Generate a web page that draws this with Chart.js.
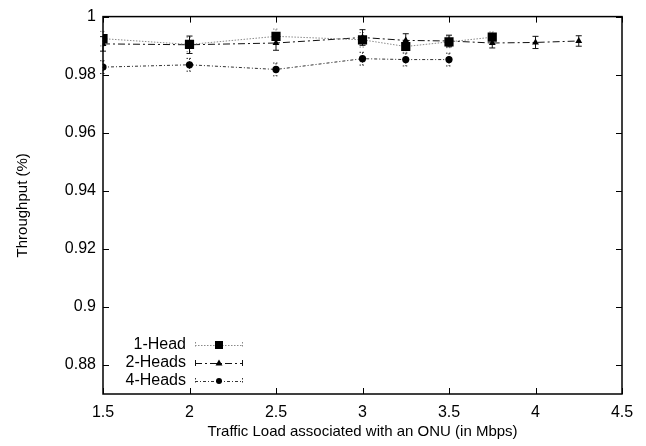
<!DOCTYPE html>
<html>
<head>
<meta charset="utf-8">
<script src="https://cdn.jsdelivr.net/npm/chart.js@4/dist/chart.umd.min.js"></script>
<style>
  html, body { margin: 0; padding: 0; background: #fff; }
  #wrap { width: 646px; height: 446px; }
</style>
</head>
<body>
<div id="wrap"><canvas id="grafico" width="646" height="446"></canvas></div>
<script>
// datos
const cargas1 = [1.5, 2, 2.5, 3, 3.25, 3.5, 3.75];
const head1 = [0.9924, 0.9904, 0.9932, 0.9920, 0.9897, 0.9913, 0.9929];
const error1 = [0.0025, 0.0025, 0.0025, 0.0025, 0.002, 0.002, 0.0018];

const cargas2 = [1.5, 2, 2.5, 3, 3.25, 3.5, 3.75, 4, 4.25];
const heads2 = [0.9906, 0.9903, 0.9909, 0.9928, 0.9918, 0.9916, 0.9909, 0.9911, 0.9916];
const error2 = [0.0025, 0.003, 0.0025, 0.0027, 0.0023, 0.002, 0.0017, 0.0021, 0.0018];

const cargas4 = [1.5, 2, 2.5, 3, 3.25, 3.5];
const heads4 = [0.9826, 0.9834, 0.9818, 0.9855, 0.9852, 0.9852];
const error4 = [0.0022, 0.0022, 0.0022, 0.0022, 0.0022, 0.0022];

const ticksX = [1.5, 2, 2.5, 3, 3.5, 4, 4.5];
const ticksY = [0.88, 0.9, 0.92, 0.94, 0.96, 0.98, 1];

const etiquetas = ['1-Head', '2-Heads', '4-Heads'];

const fuente = '"Liberation Sans", Arial, sans-serif';

function puntos(xs, ys) {
    return xs.map((x, i) => ({x: x, y: ys[i]}));
}

const series = [
    {label: etiquetas[0], data: puntos(cargas1, head1), errores: error1,
     borderColor: '#8a8a8a', borderDash: [1.5, 1.5], pointStyle: 'rect', pointRadius: 6.5},
    {label: etiquetas[1], data: puntos(cargas2, heads2), errores: error2,
     borderColor: '#111', borderDash: [7, 3, 2, 3], pointStyle: 'triangle', pointRadius: 4},
    {label: etiquetas[2], data: puntos(cargas4, heads4), errores: error4,
     borderColor: '#333', borderDash: [3, 2, 1, 2], pointStyle: 'circle', pointRadius: 3.6}
];

const datasets = series.map(s => ({
    label: s.label,
    data: s.data,
    errores: s.errores,
    showLine: true,
    borderColor: s.borderColor,
    borderWidth: 1,
    borderDash: s.borderDash,
    pointStyle: s.pointStyle,
    pointRadius: s.pointRadius,
    pointBackgroundColor: '#000',
    pointBorderColor: '#000',
    pointBorderWidth: 0,
    tension: 0
}));

// barras de error, marco con ticks hacia dentro y leyenda estilo gnuplot
const pluginGnuplot = {
    id: 'gnuplot',
    beforeDatasetsDraw(chart) {
        const ctx = chart.ctx;
        const sx = chart.scales.x;
        const sy = chart.scales.y;
        chart.data.datasets.forEach(ds => {
            ctx.save();
            ctx.strokeStyle = ds.borderColor;
            ctx.lineWidth = 1;
            ctx.setLineDash(ds.borderColor === '#111' ? [] : [1.5, 1.5]);
            ds.data.forEach((p, i) => {
                const px = sx.getPixelForValue(p.x);
                const y1 = sy.getPixelForValue(p.y + ds.errores[i]);
                const y2 = sy.getPixelForValue(p.y - ds.errores[i]);
                ctx.beginPath();
                ctx.moveTo(px, y1); ctx.lineTo(px, y2);
                ctx.moveTo(px - 3, y1); ctx.lineTo(px + 3, y1);
                ctx.moveTo(px - 3, y2); ctx.lineTo(px + 3, y2);
                ctx.stroke();
            });
            ctx.restore();
        });
    },
    afterDraw(chart) {
        const ctx = chart.ctx;
        const a = chart.chartArea;
        const sx = chart.scales.x;
        const sy = chart.scales.y;
        ctx.save();
        ctx.strokeStyle = '#000';
        ctx.lineWidth = 1.5;
        ctx.strokeRect(a.left, a.top, a.right - a.left, a.bottom - a.top);
        ctx.lineWidth = 1;
        ctx.beginPath();
        ticksX.forEach(v => {
            const px = Math.round(sx.getPixelForValue(v)) + 0.5;
            ctx.moveTo(px, a.bottom); ctx.lineTo(px, a.bottom - 6);
            ctx.moveTo(px, a.top); ctx.lineTo(px, a.top + 6);
        });
        ticksY.forEach(v => {
            const py = Math.round(sy.getPixelForValue(v)) + 0.5;
            ctx.moveTo(a.left, py); ctx.lineTo(a.left + 6, py);
            ctx.moveTo(a.right, py); ctx.lineTo(a.right - 6, py);
        });
        ctx.stroke();

        // leyenda
        ctx.font = '16px ' + fuente;
        ctx.textAlign = 'right';
        ctx.textBaseline = 'middle';
        ctx.fillStyle = '#000';
        chart.data.datasets.forEach((ds, i) => {
            const fy = 345 + i * 18;
            const x0 = 195, x1 = 243, xm = 219;
            ctx.fillText(ds.label, 186, fy);
            ctx.save();
            ctx.strokeStyle = ds.borderColor;
            ctx.setLineDash(ds.borderDash);
            ctx.beginPath();
            ctx.moveTo(x0, fy + 0.5); ctx.lineTo(x1, fy + 0.5);
            ctx.stroke();
            ctx.setLineDash(ds.borderColor === '#111' ? [] : [1.5, 1.5]);
            ctx.beginPath();
            ctx.moveTo(x0 + 0.5, fy - 3); ctx.lineTo(x0 + 0.5, fy + 3);
            ctx.moveTo(x1 - 0.5, fy - 3); ctx.lineTo(x1 - 0.5, fy + 3);
            ctx.stroke();
            ctx.restore();
            ctx.beginPath();
            if (i === 0) {
                ctx.rect(xm - 4, fy - 4, 8, 8);
            } else if (i === 1) {
                ctx.moveTo(xm, fy - 3.5); ctx.lineTo(xm + 3.5, fy + 2.5); ctx.lineTo(xm - 3.5, fy + 2.5);
                ctx.closePath();
            } else {
                ctx.arc(xm, fy, 3, 0, Math.PI * 2);
            }
            ctx.fill();
        });
        ctx.restore();
    }
};

Chart.defaults.font.family = fuente;
Chart.defaults.color = '#000';

new Chart(document.querySelector('#grafico'), {
    type: 'scatter',
    data: {datasets},
    plugins: [pluginGnuplot],
    options: {
        responsive: false,
        animation: false,
        layout: {padding: {left: 14, right: 24, top: 16, bottom: 5}},
        plugins: {legend: {display: false}, tooltip: {enabled: false}},
        scales: {
            x: {
                type: 'linear',
                min: 1.5,
                max: 4.5,
                afterBuildTicks: axis => { axis.ticks = ticksX.map(v => ({value: v})); },
                afterFit: axis => { axis.height = 47; },
                grid: {display: false, drawTicks: false},
                border: {display: false},
                ticks: {padding: 9, font: {size: 16}, maxRotation: 0, autoSkip: false,
                        callback: v => String(v)},
                title: {display: true, text: 'Traffic Load associated with an ONU (in Mbps)',
                        font: {size: 15}, padding: {top: 2, bottom: 0}}
            },
            y: {
                type: 'linear',
                min: 0.87,
                max: 1,
                afterBuildTicks: axis => { axis.ticks = ticksY.map(v => ({value: v})); },
                afterFit: axis => { axis.width = 89; },
                grid: {display: false, drawTicks: false},
                border: {display: false},
                ticks: {padding: 7, font: {size: 16}, autoSkip: false,
                        callback: v => String(Math.round(v * 100) / 100)},
                title: {display: true, text: 'Throughput (%)', font: {size: 15}, padding: {top: 0, bottom: 0}}
            }
        }
    }
});
</script>
</body>
</html>
